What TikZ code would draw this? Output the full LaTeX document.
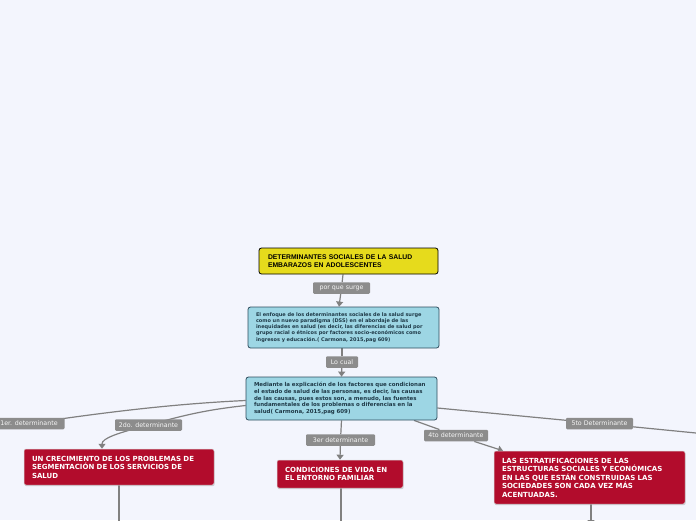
\documentclass[tikz,border=0pt]{standalone}
\usepackage{fontspec}
\setmainfont{DejaVu Sans}
\newfontfamily\arialf{Liberation Sans}
\usetikzlibrary{arrows.meta,shadows}
\pgfdeclarelayer{bg}
\pgfdeclarelayer{edges}
\pgfsetlayers{bg,edges,main}
\definecolor{bgc}{HTML}{F3F5FD}
\definecolor{yel}{HTML}{E6DB1C}
\definecolor{blu}{HTML}{9DD6E4}
\definecolor{bluline}{HTML}{2E4D5E}
\definecolor{bluetext}{HTML}{1F3A48}
\definecolor{redc}{HTML}{B20C2C}
\definecolor{labc}{HTML}{8C8C8C}
\definecolor{conc}{HTML}{808080}
\tikzset{
  ybox/.style={draw=black, line width=0.8pt, fill=yel, rounded corners=2.5pt, align=left,
    inner xsep=9pt, inner ysep=2pt, text width=161pt, minimum height=26pt,
    font=\arialf\bfseries\fontsize{6.8}{7.6}\selectfont},
  bbox/.style={draw=bluline, line width=0.8pt, fill=blu, rounded corners=2.5pt, align=left,
    inner xsep=8pt, inner ysep=2pt, text width=175pt, text=bluetext},
  rbox/.style={draw=white!85!black, line width=0.5pt, fill=redc, rounded corners=2pt, align=left,
    inner xsep=8pt, inner ysep=2pt, text=white,
    drop shadow={shadow xshift=0.6pt, shadow yshift=-1.2pt, opacity=0.35, fill=black!50},
    font=\bfseries\fontsize{7.0}{8.5}\selectfont},
  lab/.style={fill=labc, rounded corners=1.2pt, text=white!92!labc, inner sep=0pt,
    minimum height=11.5pt, font=\fontsize{6.3}{6.5}\selectfont},
  conn/.style={draw=conc, line width=1.2pt},
  arr/.style={-{Triangle[length=5pt,width=7pt]}},
}
\begin{document}
\begin{tikzpicture}[x=1pt,y=-1pt]
\begin{pgfonlayer}{bg}
\fill[bgc] (0,0) rectangle (696,520);
\end{pgfonlayer}
\useasboundingbox (0,0) rectangle (696,520);

% main nodes
\node[ybox] (Y) at (348.5,261) {DETERMINANTES SOCIALES DE LA SALUD\\EMBARAZOS EN ADOLESCENTES};
\node[bbox, minimum height=41pt, font=\bfseries\fontsize{5.0}{6.1}\selectfont] (B2) at (343.5,327.5) {El enfoque de los determinantes sociales de la salud surge\\como un nuevo paradigma (DSS) en el abordaje de las\\inequidades en salud (es decir, las diferencias de salud por\\grupo racial o étnicos por factores socio-económicos como\\ingresos y educación.( Carmona, 2015,pag 609)};
\node[bbox, minimum height=43pt, font=\bfseries\fontsize{5.45}{6.75}\selectfont] (B3) at (341.5,398.5) {Mediante la explicación de los factores que condicionan\\el estado de salud de las personas, es decir, las causas\\de las causas, pues estos son, a menudo, las fuentes\\fundamentales de los problemas o diferencias en la\\salud( Carmona, 2015,pag 609)};
\node[rbox, text width=174pt, minimum height=36pt] (R1) at (119,467) {UN CRECIMIENTO DE LOS PROBLEMAS DE\\SEGMENTACIÓN DE LOS SERVICIOS DE\\SALUD};
\node[rbox, text width=110pt, minimum height=28pt] (R2) at (340,474) {CONDICIONES DE VIDA EN\\EL ENTORNO FAMILIAR};
\node[rbox, text width=175pt, minimum height=53pt] (R3) at (589.5,477.5) {LAS ESTRATIFICACIONES DE LAS\\ESTRUCTURAS SOCIALES Y ECONÓMICAS\\EN LAS QUE ESTÁN CONSTRUIDAS LAS\\SOCIEDADES SON CADA VEZ MÁS\\ACENTUADAS.};

% labels
\node[lab, minimum width=57pt] (L1) at (341.5,288) {por que surge};
\node[lab, minimum width=32pt] (L2) at (342,362) {Lo cual};
\node[lab, minimum width=71pt] (L3) at (29,423.5) {1er. determinante};
\node[lab, minimum width=67pt] (L4) at (148.5,425) {2do. determinante};
\node[lab, minimum width=69pt] (L5) at (340.5,440) {3er determinante};
\node[lab, minimum width=64pt] (L6) at (456,435.5) {4to determinante};
\node[lab, minimum width=67pt] (L7) at (599.5,423.5) {5to Determinante};

% free ends
\coordinate (E5) at (700,433.4);
\coordinate (E1) at (119,522);
\coordinate (E2) at (341,522);
\coordinate (E3) at (591,525);

\begin{pgfonlayer}{edges}
\draw[conn] ([xshift=-5.5pt]Y.south) -- (L1);
\draw[conn,arr] (L1) -- ([xshift=-4.5pt]B2.north);
\draw[conn] ([xshift=-1.5pt]B2.south) -- (L2);
\draw[conn,arr] (L2) -- (B3.north);
\draw[conn] ([yshift=-2pt]B3.west) .. controls (170,404) and (100,413) .. (L3.center);
\draw[conn] ([yshift=-7pt]B3.west) .. controls (205,410) and (185,415) .. (L4.center);
\draw[conn,arr] (L4.center) .. controls (118,433) and (102,438) .. ([xshift=-17pt]R1.north);
\draw[conn] (B3.south) -- (L5);
\draw[conn,arr] (L5) -- (R2.north);
\draw[conn] ([xshift=72.5pt]B3.south) -- (L6);
\draw[conn,arr] (L6) -- ([xshift=-86.5pt]R3.north);
\draw[conn] ([yshift=-9.5pt]B3.east) -- (L7) -- (E5);
\draw[conn] (R1.south) -- (E1);
\draw[conn] ([xshift=1pt]R2.south) -- (E2);
\draw[conn,arr] ([xshift=1.5pt]R3.south) -- (E3);
\end{pgfonlayer}
\end{tikzpicture}
\end{document}
